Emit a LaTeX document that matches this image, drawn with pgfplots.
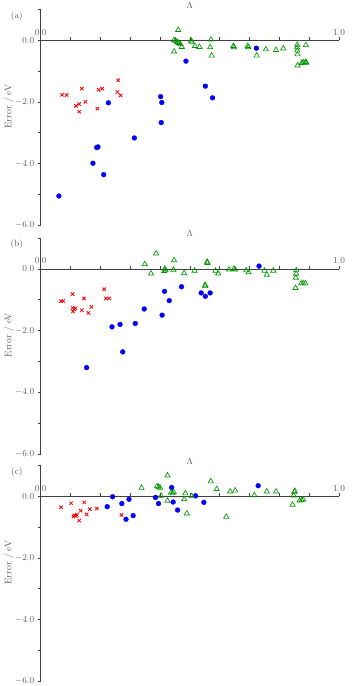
\documentclass[border=0pt]{standalone}
\usepackage{pgfplots}
\pgfplotsset{compat=1.18}
\definecolor{mygreen}{RGB}{0,150,0}
\definecolor{txt}{RGB}{90,90,90}
\pgfplotsset{
  panel/.style={
    scale only axis, width=298.3pt, height=216pt,
    xmin=0, xmax=1, ymin=-6, ymax=1,
    axis x line=middle, axis y line=left,
    hide obscured x ticks=false,
    axis line style={-, black!75, line width=0.6pt},
    clip=false,
    xtick={0,0.1,0.2,0.3,0.4,0.5,0.6,0.7,0.8,0.9,1},
    xticklabels={$0.0$,,,,,,,,,,$1.0$},
    xtick align=inside,
    ytick align=outside,
    ytick={-6,-4,-2,0},
    minor ytick={-5,-3,-1,1},
    major tick length=3pt, minor tick length=3pt,
    tick style={black!75, line width=0.6pt},
    yticklabel style={/pgf/number format/fixed, /pgf/number format/fixed zerofill, /pgf/number format/precision=1},
    yticklabel style={font=\fontsize{9.5}{10}\selectfont, text=txt},
    xticklabel style={font=\fontsize{9}{10}\selectfont, text=txt, anchor=south, yshift=1.5pt},
    xlabel={$\Lambda$},
    xlabel style={at={(axis description cs:0.5,1)}, anchor=south, inner sep=1pt, font=\fontsize{9}{10}\selectfont, text=txt},
    ylabel={Error / eV},
    ylabel style={at={(axis description cs:-0.106,0.55)}, anchor=center, rotate=0, font=\fontsize{9.5}{10}\selectfont, text=txt},
  },
  redx/.style={only marks, mark=x, mark size=2.4pt, color=red, mark options={line width=0.8pt}},
  bluedot/.style={only marks, mark=*, mark size=2.4pt, color=blue},
  greentri/.style={only marks, mark=triangle, mark size=3pt, color=mygreen, mark options={line width=0.65pt}},
}
\begin{document}
\begin{tikzpicture}[x=1pt,y=1pt]
% ---------------- (a)
\begin{axis}[panel, at={(40.7pt,460.7pt)}, anchor=south west]
\node[text=txt, font=\fontsize{9}{10}\selectfont] at (axis description cs:-0.08,0.97) {(a)};
\addplot[redx] table {
0.072 -1.77
0.087 -1.78
0.138 -1.57
0.118 -2.13
0.129 -2.07
0.129 -2.32
0.150 -2.00
0.190 -2.22
0.194 -1.61
0.206 -1.57
0.260 -1.30
0.257 -1.68
0.268 -1.79
};
\addplot[bluedot] table {
0.227 -2.03
0.402 -1.83
0.406 -2.02
0.487 -0.68
0.552 -1.49
0.576 -1.87
0.723 -0.26
0.404 -2.67
0.314 -3.17
0.188 -3.48
0.192 -3.46
0.175 -3.99
0.211 -4.36
0.061 -5.05
};
\addplot[greentri] table {
0.461 0.33
0.447 0.00
0.452 -0.02
0.458 -0.06
0.463 -0.09
0.468 -0.13
0.473 -0.22
0.447 -0.37
0.504 -0.01
0.506 -0.05
0.517 -0.19
0.532 -0.22
0.571 0.02
0.568 -0.23
0.573 -0.50
0.646 -0.19
0.648 -0.23
0.694 -0.19
0.696 -0.23
0.724 -0.50
0.755 -0.30
0.789 -0.32
0.813 -0.27
0.860 -0.15
0.860 -0.24
0.860 -0.34
0.861 -0.46
0.889 -0.16
0.861 -0.82
0.875 -0.74
0.880 -0.72
0.887 -0.71
0.891 -0.73
};
\end{axis}
% ---------------- (b)
\begin{axis}[panel, at={(40.7pt,232pt)}, anchor=south west]
\node[text=txt, font=\fontsize{9}{10}\selectfont] at (axis description cs:-0.08,0.97) {(b)};
\addplot[redx] table {
0.068 -1.05
0.076 -1.04
0.107 -0.82
0.107 -1.26
0.112 -1.31
0.108 -1.38
0.116 -1.28
0.145 -0.96
0.138 -1.34
0.160 -1.43
0.170 -1.23
0.213 -0.66
0.219 -0.96
0.230 -0.96
};
\addplot[bluedot] table {
0.239 -1.88
0.266 -1.80
0.317 -1.77
0.347 -1.30
0.407 -1.50
0.415 -0.73
0.431 -1.03
0.472 -0.58
0.538 -0.78
0.552 -0.89
0.568 -0.78
0.732 0.09
0.275 -2.69
0.154 -3.20
};
\addplot[greentri] table {
0.387 0.50
0.349 0.15
0.370 -0.15
0.416 0.00
0.419 -0.05
0.414 -0.07
0.447 0.28
0.445 -0.03
0.481 -0.14
0.516 -0.06
0.558 0.23
0.559 0.19
0.551 -0.52
0.552 -0.56
0.586 -0.06
0.595 -0.15
0.631 -0.02
0.648 0.00
0.652 -0.02
0.689 -0.05
0.697 -0.11
0.750 -0.06
0.758 -0.19
0.780 -0.06
0.857 -0.05
0.856 -0.16
0.855 -0.29
0.854 -0.62
0.873 -0.47
0.880 -0.47
0.887 -0.47
};
\end{axis}
% ---------------- (c)
\begin{axis}[panel, at={(40.7pt,4.7pt)}, anchor=south west]
\node[text=txt, font=\fontsize{9}{10}\selectfont] at (axis description cs:-0.08,0.97) {(c)};
\addplot[redx] table {
0.068 -0.36
0.102 -0.23
0.146 -0.20
0.113 -0.62
0.118 -0.64
0.121 -0.60
0.110 -0.66
0.134 -0.47
0.129 -0.79
0.154 -0.59
0.165 -0.42
0.188 -0.40
0.271 -0.61
};
\addplot[bluedot] table {
0.223 -0.34
0.241 -0.02
0.272 -0.24
0.286 -0.75
0.296 -0.10
0.310 -0.63
0.385 -0.04
0.395 -0.24
0.439 0.28
0.444 -0.19
0.459 -0.45
0.519 0.01
0.547 -0.20
0.729 0.34
};
\addplot[greentri] table {
0.338 0.27
0.425 0.67
0.390 0.32
0.395 0.30
0.400 0.27
0.404 0.01
0.425 -0.15
0.437 0.12
0.442 0.09
0.446 0.13
0.485 0.09
0.481 -0.10
0.490 -0.56
0.506 0.00
0.570 0.48
0.590 0.23
0.622 -0.67
0.635 0.15
0.652 0.18
0.716 0.03
0.758 0.15
0.789 0.15
0.850 0.13
0.852 0.17
0.848 0.02
0.844 -0.28
0.868 -0.14
0.875 -0.13
0.880 -0.11
};
\end{axis}
\pgfresetboundingbox
\path (0pt,0pt) rectangle (355pt,686pt);
\end{tikzpicture}
\end{document}
